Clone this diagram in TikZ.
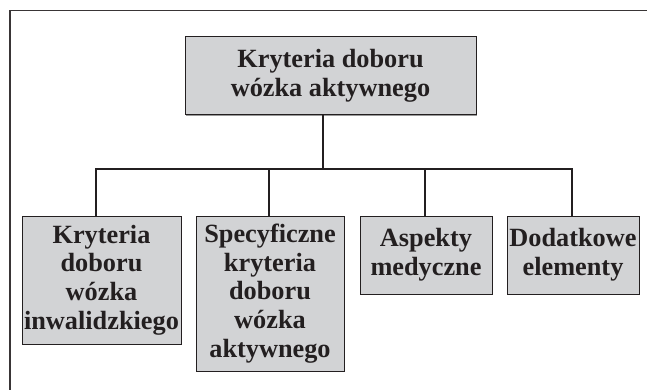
\documentclass[tikz,border=0pt]{standalone}
\usepackage{fontspec}
\setmainfont{Liberation Serif}
\usetikzlibrary{calc,shadows}
\definecolor{boxfill}{RGB}{210,211,213}
\definecolor{ink}{RGB}{35,31,32}
\begin{document}
\begin{tikzpicture}[x=1pt,y=-1pt,
  box/.style={draw=ink, line width=1pt, fill=boxfill, inner sep=0pt, align=center,
    text=ink, font=\bfseries\fontsize{26.3}{28.8}\selectfont,
    drop shadow={shadow xshift=0.8pt, shadow yshift=-0.8pt, fill=gray!80, opacity=1}},
  conn/.style={draw=ink, line width=1.5pt},
  frame/.style={draw=ink!90, line width=1.1pt}]
\useasboundingbox (0,0) rectangle (647,390);
\fill[white] (0,0) rectangle (647,390);
\draw[frame] (10,390) -- (10,10.5) -- (647,10.5);
\node[box, minimum width=291pt, minimum height=78pt] (top) at (330.5,76) {Kryteria doboru\\wózka aktywnego};
\node[box, minimum width=159pt, minimum height=128pt] (c1) at (101.5,280) {Kryteria\\doboru\\wózka\\inwalidzkiego};
\node[box, minimum width=148pt, minimum height=155pt] (c2) at (270,293.5) {Specyficzne\\kryteria\\doboru\\wózka\\aktywnego};
\node[box, minimum width=132pt, minimum height=78pt] (c3) at (426,255) {Aspekty\\medyczne};
\node[box, minimum width=132pt, minimum height=78pt] (c4) at (573,255) {Dodatkowe\\elementy};
\coordinate (bus) at (323,169);
\coordinate (t1) at ($(c1.north)+(-5.5,0)$);
\coordinate (t2) at ($(c2.north)+(-1,0)$);
\coordinate (t3) at ($(c3.north)+(-1,0)$);
\coordinate (t4) at ($(c4.north)+(-1,0)$);
\draw[conn] (top.south -| bus) -- (bus);
\draw[conn] (t1) |- (bus) -| (t4);
\draw[conn] (t2) -- (t2 |- bus);
\draw[conn] (t3) -- (t3 |- bus);
\end{tikzpicture}
\end{document}
